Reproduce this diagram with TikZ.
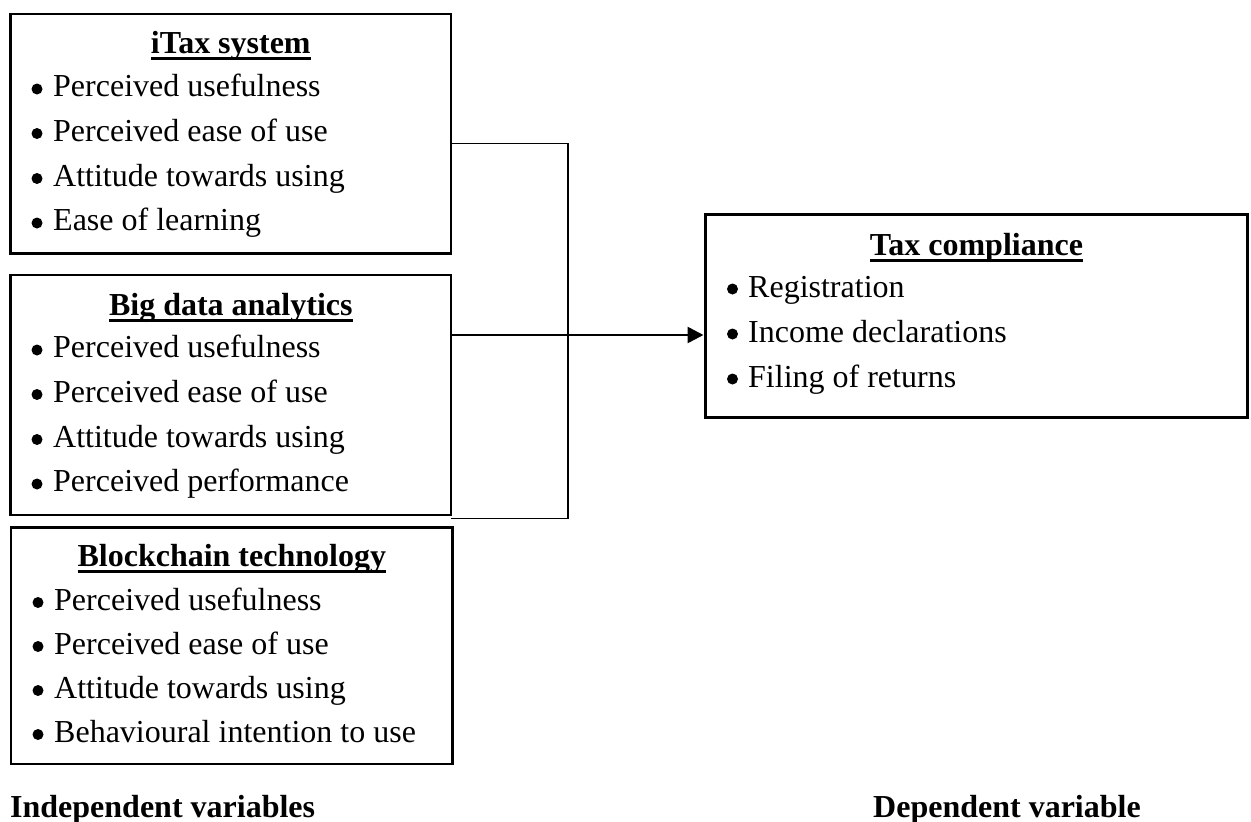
\documentclass[tikz,border=0pt]{standalone}
\usepackage{fontspec}
\setmainfont{Liberation Serif}
\usetikzlibrary{arrows.meta}
\newcommand\myul[1]{\setbox0\hbox{#1}\rlap{\rule[-6.8pt]{\wd0}{2.6pt}}\box0}
\begin{document}
\begin{tikzpicture}[x=1pt,y=-1pt,
  box/.style={draw, line width=2.4pt, inner sep=0pt, outer sep=0pt, anchor=north west},
  ttl/.style={font=\fontsize{32}{38}\selectfont\bfseries, anchor=base, inner sep=0pt},
  itm/.style={font=\fontsize{32}{38}\selectfont, anchor=base west, inner sep=0pt},
  lbl/.style={font=\fontsize{32}{38}\selectfont\bfseries, anchor=base west, inner sep=0pt},
  bul/.style={circle, fill, minimum size=11pt, inner sep=0pt},
  thinline/.style={line width=1.2pt},
  arr/.style={line width=2.6pt, -{Triangle[length=16pt,width=16pt]}}]
\useasboundingbox (0,0) rectangle (1251,822);
% boxes
\node[box, minimum width=440.5pt, minimum height=239.5pt] (itax) at (10.5,14) {};
\node[box, minimum width=440.5pt, minimum height=240pt] (bigdata) at (10.5,275) {};
\node[box, minimum width=441.5pt, minimum height=236.5pt] (block) at (11,527.5) {};
\node[box, minimum width=542pt, minimum height=203pt] (tax) at (705.5,214.5) {};
% iTax
\node[ttl] (t1) at (230.8,53) {\myul{iTax system}};
\node[bul] (b11) at (37,89) {};
\node[itm] (i11) at (53,96.5) {Perceived usefulness};
\node[bul] (b12) at (37,133.5) {};
\node[itm] (i12) at (53,141) {Perceived ease of use};
\node[bul] (b13) at (37,178.5) {};
\node[itm] (i13) at (53,186) {Attitude towards using};
\node[bul] (b14) at (37,223) {};
\node[itm] (i14) at (53,230.5) {Ease of learning};
% Big data
\node[ttl] (t2) at (230.8,315) {\myul{Big data analytics}};
\node[bul] (b21) at (37,350) {};
\node[itm] (i21) at (53,357.5) {Perceived usefulness};
\node[bul] (b22) at (37,394.5) {};
\node[itm] (i22) at (53,402) {Perceived ease of use};
\node[bul] (b23) at (37,439.5) {};
\node[itm] (i23) at (53,447) {Attitude towards using};
\node[bul] (b24) at (37,484) {};
\node[itm] (i24) at (53,491.5) {Perceived performance};
% Blockchain
\node[ttl] (t3) at (231.8,566) {\myul{Blockchain technology}};
\node[bul] (b31) at (38,602.5) {};
\node[itm] (i31) at (54,610) {Perceived usefulness};
\node[bul] (b32) at (38,646.5) {};
\node[itm] (i32) at (54,654) {Perceived ease of use};
\node[bul] (b33) at (38,690.5) {};
\node[itm] (i33) at (54,698) {Attitude towards using};
\node[bul] (b34) at (38,734.5) {};
\node[itm] (i34) at (54,742) {Behavioural intention to use};
% Tax compliance
\node[ttl] (t4) at (976.5,255) {\myul{Tax compliance}};
\node[bul] (b41) at (732.5,289) {};
\node[itm] (i41) at (748,297) {Registration};
\node[bul] (b42) at (732.5,334) {};
\node[itm] (i42) at (748,342) {Income declarations};
\node[bul] (b43) at (732.5,379) {};
\node[itm] (i43) at (748,387) {Filing of returns};
% labels
\node[lbl] (ind) at (10,817) {Independent variables};
\node[lbl] (dep) at (873,817) {Dependent variable};
% connectors
\coordinate (bt) at (568,143.3);
\coordinate (bb) at (568,518.3);
\coordinate (ay) at (0,335);
\draw[thinline] (itax.east |- bt) -- (bt) -- (bb) -- (bigdata.east |- bb);
\draw[arr, shorten >=2pt] (bigdata.east |- ay) -- (tax.west |- ay);
\end{tikzpicture}
\end{document}
